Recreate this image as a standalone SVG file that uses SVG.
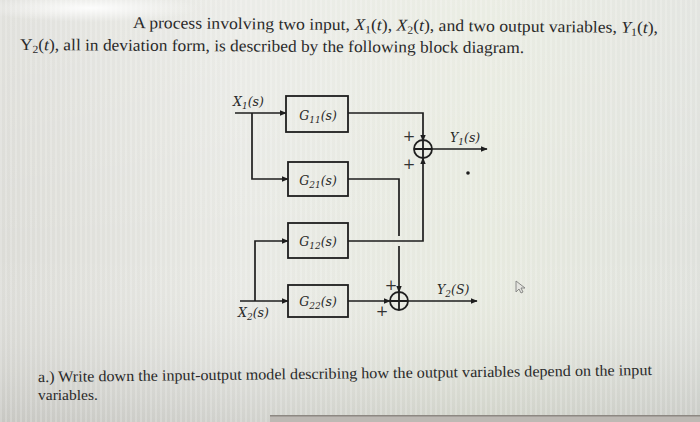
<svg xmlns="http://www.w3.org/2000/svg" width="700" height="422" viewBox="0 0 700 422">
  <defs>
    <linearGradient id="bgH" x1="0" y1="0" x2="1" y2="0">
      <stop offset="0" stop-color="#dcdcd7"/>
      <stop offset="0.35" stop-color="#e8e9e4"/>
      <stop offset="0.7" stop-color="#e7eadf"/>
      <stop offset="1" stop-color="#dfe1dc"/>
    </linearGradient>
    <linearGradient id="bgV" x1="0" y1="0" x2="0" y2="1">
      <stop offset="0" stop-color="#ffffff" stop-opacity="0.15"/>
      <stop offset="0.6" stop-color="#ffffff" stop-opacity="0"/>
      <stop offset="1" stop-color="#8a8a86" stop-opacity="0.25"/>
    </linearGradient>
    <pattern id="stripes" width="5" height="10" patternUnits="userSpaceOnUse">
      <rect x="0" y="0" width="2" height="10" fill="#ffffff" opacity="0.18"/>
    </pattern>
    <radialGradient id="smudge" cx="0.5" cy="0.5" r="0.5">
      <stop offset="0" stop-color="#ffffff" stop-opacity="0.9"/>
      <stop offset="1" stop-color="#ffffff" stop-opacity="0"/>
    </radialGradient>
    <marker id="arr" viewBox="0 0 10 10" refX="9" refY="5" markerWidth="7" markerHeight="7" markerUnits="userSpaceOnUse" orient="auto">
      <path d="M0,1 L10,5 L0,9 z" fill="#1e1e1e"/>
    </marker>
    <style>
      .ln { fill: none; stroke: #1e1e1e; stroke-width: 1.7; }
      .blk { fill: none; stroke: #1e1e1e; stroke-width: 1.8; }
      .sum { fill: none; stroke: #1e1e1e; stroke-width: 1.8; }
      .body { fill: #2a2a2a; }
      .lbl { font-style: italic; fill: #2a2a2a; font-size: 12.5px; }
      .pl { fill: #333; font-size: 15px; }
    </style>
  </defs>

  <!-- background -->
  <rect width="700" height="422" fill="url(#bgH)"/>
  <rect width="700" height="422" fill="url(#bgV)"/>
  <rect width="700" height="422" fill="url(#stripes)"/>
  <ellipse cx="90" cy="8" rx="110" ry="14" fill="url(#smudge)"/>
  <rect x="270" y="416" width="430" height="6" fill="#bdb9b4"/>
  <rect x="270" y="415" width="430" height="1.5" fill="#8d8882"/>

  <!-- text -->
  <g font-family="Liberation Serif, Times New Roman, serif">
  <text class="body" x="133" y="28" font-size="16.5" textLength="525" lengthAdjust="spacingAndGlyphs" transform="rotate(0.55 133 28)">A process involving two input, <tspan font-style="italic">X</tspan><tspan font-size="11" dy="3">1</tspan><tspan dy="-3">(</tspan><tspan font-style="italic">t</tspan>), <tspan font-style="italic">X</tspan><tspan font-size="11" dy="3">2</tspan><tspan dy="-3">(</tspan><tspan font-style="italic">t</tspan>), and two output variables, <tspan font-style="italic">Y</tspan><tspan font-size="11" dy="3">1</tspan><tspan dy="-3">(</tspan><tspan font-style="italic">t</tspan>),</text>
  <text class="body" x="20" y="50" font-size="16.5" textLength="504" lengthAdjust="spacingAndGlyphs" transform="rotate(0.35 20 50)">Y<tspan font-size="11" dy="3">2</tspan><tspan dy="-3">(</tspan><tspan font-style="italic">t</tspan>), all in deviation form, is described by the following block diagram.</text>
  <text class="body" x="38" y="382" font-size="15.5" textLength="614" lengthAdjust="spacingAndGlyphs" transform="rotate(-0.65 38 382)">a.) Write down the input-output model describing how the output variables depend on the input</text>
  <text class="body" x="38" y="400" font-size="15.5">variables.</text>
  </g>

  <!-- connectors -->
  <g id="connectors">
    <path class="ln" d="M235,113 H286" marker-end="url(#arr)"/>
    <path class="ln" d="M252,113 V179 H288" marker-end="url(#arr)"/>
    <path class="ln" d="M348,113 H423 V141" marker-end="url(#arr)"/>
    <path class="ln" d="M432,149 H487" marker-end="url(#arr)"/>
    <path class="ln" d="M348,179 H399 V236"/>
    <path class="ln" d="M399,246 V292" marker-end="url(#arr)"/>
    <path class="ln" d="M348,241 H423 V158" marker-end="url(#arr)"/>
    <path class="ln" d="M240,301 H288" marker-end="url(#arr)"/>
    <path class="ln" d="M255,301 V241 H288" marker-end="url(#arr)"/>
    <path class="ln" d="M348,301 H390" marker-end="url(#arr)"/>
    <path class="ln" d="M408,301 H477" marker-end="url(#arr)"/>
  </g>

  <g font-family="DejaVu Serif, Liberation Serif, serif">
  <!-- blocks -->
  <g id="G11">
    <rect class="blk" x="286" y="96" width="62" height="36"/>
    <text class="lbl" x="318" y="120" text-anchor="middle">G<tspan font-size="9" dy="2.5">11</tspan><tspan dy="-2.5">(s)</tspan></text>
  </g>
  <g id="G21">
    <rect class="blk" x="288" y="162" width="60" height="34"/>
    <text class="lbl" x="318" y="185" text-anchor="middle">G<tspan font-size="9" dy="2.5">21</tspan><tspan dy="-2.5">(s)</tspan></text>
  </g>
  <g id="G12">
    <rect class="blk" x="288" y="223" width="60" height="35"/>
    <text class="lbl" x="318" y="246" text-anchor="middle">G<tspan font-size="9" dy="2.5">12</tspan><tspan dy="-2.5">(s)</tspan></text>
  </g>
  <g id="G22">
    <rect class="blk" x="288" y="285" width="60" height="32"/>
    <text class="lbl" x="318" y="306" text-anchor="middle">G<tspan font-size="9" dy="2.5">22</tspan><tspan dy="-2.5">(s)</tspan></text>
  </g>

  <!-- summing junctions -->
  <g id="sum1">
    <circle class="sum" cx="423" cy="149" r="9"/>
    <path class="sum" d="M414,149 H432 M423,140 V158"/>
    <text class="pl" x="409" y="141" text-anchor="middle">+</text>
    <text class="pl" x="409" y="169" text-anchor="middle">+</text>
  </g>
  <g id="sum2">
    <circle class="sum" cx="399" cy="301" r="9"/>
    <path class="sum" d="M390,301 H408 M399,292 V310"/>
    <text class="pl" x="391" y="290" text-anchor="middle">+</text>
    <text class="pl" x="382" y="316" text-anchor="middle">+</text>
  </g>

  <!-- signal labels -->
  <g id="X1">
    <text class="lbl" x="233" y="106" font-size="13">X<tspan font-size="9" dy="2.5">1</tspan><tspan dy="-2.5">(s)</tspan></text>
  </g>
  <g id="X2">
    <text class="lbl" x="238" y="317" font-size="13">X<tspan font-size="9" dy="2.5">2</tspan><tspan dy="-2.5">(s)</tspan></text>
  </g>
  <g id="Y1">
    <text class="lbl" x="450" y="142" font-size="13">Y<tspan font-size="9" dy="2.5">1</tspan><tspan dy="-2.5">(s)</tspan></text>
  </g>
  <g id="Y2">
    <text class="lbl" x="437" y="294" font-size="13">Y<tspan font-size="9" dy="2.5">2</tspan><tspan dy="-2.5">(S)</tspan></text>
  </g>
  </g>

  <!-- photo specks -->
  <circle cx="468" cy="173" r="1.8" fill="#1e1e1e"/>
  <path d="M516,281 L516,292 L519,289 L521,293 L523,292 L521,288 L525,288 Z" fill="#e4e4e0" stroke="#666" stroke-width="0.9" opacity="0.8"/>
</svg>
